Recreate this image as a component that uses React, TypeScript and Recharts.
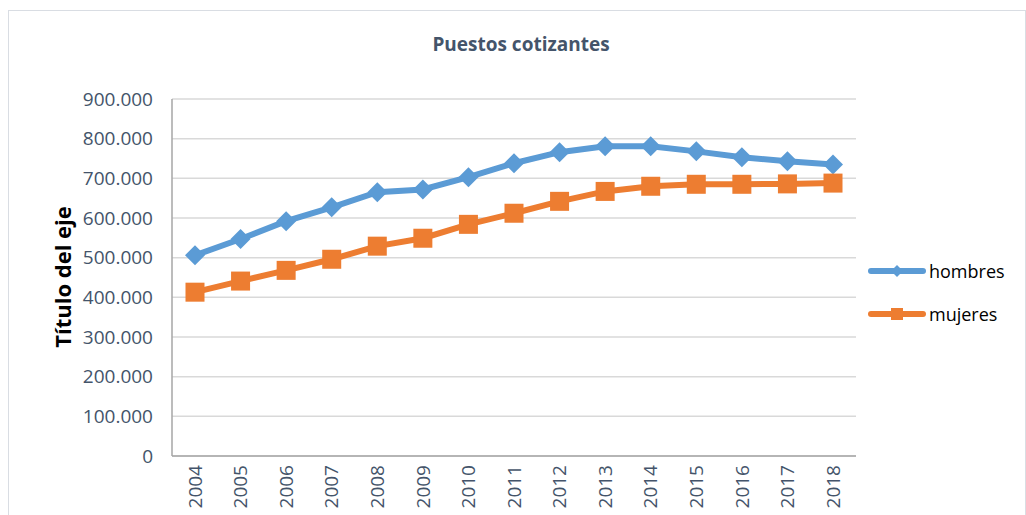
import React from 'react';
import { LineChart, Line, XAxis, YAxis, CartesianGrid, Legend } from 'recharts';

const years = ['2004','2005','2006','2007','2008','2009','2010','2011','2012','2013','2014','2015','2016','2017','2018'];
const hombres = [506000,547000,592000,627000,665000,672000,703000,738000,766000,781000,781000,768000,753000,743000,735000];
const mujeres = [413000,441000,468000,496000,529000,549000,584000,612000,642000,667000,680000,685000,685000,686000,688000];
const yTicks = [0,100000,200000,300000,400000,500000,600000,700000,800000,900000];

const data = years.map((y, i) => ({ year: y, hombres: hombres[i], mujeres: mujeres[i] }));

const BLUE = '#5b9bd5';
const ORANGE = '#ed7d31';
const TICK = '#44546a';
const FONT = '"Open Sans", sans-serif';

const fmt = (v: number) => String(v).replace(/\B(?=(\d{3})+(?!\d))/g, '.');

const Diamond = (props: any) => {
  const { cx, cy, index } = props;
  if (cx == null || cy == null) return <g key={`d${index}`} />;
  const r = 10;
  return <path key={`d${index}`} d={`M${cx},${cy - r}L${cx + r},${cy}L${cx},${cy + r}L${cx - r},${cy}Z`} fill={BLUE} />;
};

const Square = (props: any) => {
  const { cx, cy, index } = props;
  if (cx == null || cy == null) return <g key={`s${index}`} />;
  const h = 9.5;
  return <rect key={`s${index}`} x={cx - h} y={cy - h} width={h * 2} height={h * 2} fill={ORANGE} />;
};

const XTick = (props: any) => {
  const { x, y, payload } = props;
  return (
    <text transform={`translate(${x},${y}) rotate(-90)`} textAnchor="end" dy="0.35em" fill={TICK} fontSize={19} fontFamily={FONT}>
      {payload.value}
    </text>
  );
};

const YTick = (props: any) => {
  const { x, y, payload } = props;
  return (
    <text x={x} y={y} textAnchor="end" dy="0.35em" fill={TICK} fontSize={19} fontFamily={FONT}>
      {fmt(payload.value)}
    </text>
  );
};

const LegendContent = () => {
  const items = [
    { name: 'hombres', color: BLUE, shape: 'diamond' },
    { name: 'mujeres', color: ORANGE, shape: 'square' },
  ];
  return (
    <div>
      {items.map((it) => (
        <div key={it.name} style={{ display: 'flex', alignItems: 'center', height: 43 }}>
          <svg width={58} height={20}>
            <line x1={3} y1={10} x2={55} y2={10} stroke={it.color} strokeWidth={6} strokeLinecap="round" />
            {it.shape === 'diamond' ? (
              <path d="M29,4L35,10L29,16L23,10Z" fill={it.color} />
            ) : (
              <rect x={23} y={4} width={12} height={12} fill={it.color} />
            )}
          </svg>
          <span style={{ fontFamily: FONT, fontSize: 18, color: '#000', marginLeft: 3 }}>{it.name}</span>
        </div>
      ))}
    </div>
  );
};

export default function App() {
  return (
    <div style={{ position: 'absolute', left: 0, top: 0, width: 1026, height: 515, background: '#fff', overflow: 'hidden' }}>
      <div style={{ position: 'absolute', left: 8, top: 10, width: 1016, height: 520, border: '1px solid #d9dde3' }} />
      <div style={{ position: 'absolute', left: 0, top: 31, width: 1042, textAlign: 'center', fontFamily: FONT, fontWeight: 700, fontSize: 19, color: '#44546a' }}>
        Puestos cotizantes
      </div>
      <div style={{ position: 'absolute', left: 62, top: 277, transform: 'translate(-50%,-50%) rotate(-90deg)', whiteSpace: 'nowrap', fontFamily: FONT, fontWeight: 700, fontSize: 22, color: '#000' }}>
        Título del eje
      </div>
      <div style={{ position: 'absolute', left: 0, top: 0 }}>
        <LineChart width={1026} height={515} data={data} margin={{ top: 99, right: 20, left: 0, bottom: 0 }}>
          <CartesianGrid vertical={false} stroke="#d9d9d9" strokeWidth={1.5} />
          <XAxis
            dataKey="year"
            height={59}
            padding={{ left: 23, right: 23 }}
            tickLine={false}
            tickSize={0}
            tickMargin={9}
            axisLine={{ stroke: '#a6a6a6', strokeWidth: 1.5 }}
            tick={<XTick />}
            interval={0}
          />
          <YAxis
            width={172}
            domain={[0, 900000]}
            ticks={yTicks}
            tickLine={false}
            tickSize={0}
            tickMargin={19}
            axisLine={{ stroke: '#a6a6a6', strokeWidth: 1.5 }}
            tick={<YTick />}
          />
          <Legend layout="vertical" verticalAlign="top" align="right" content={<LegendContent />} wrapperStyle={{ left: 868, top: 249, width: 150 }} />
          <Line type="linear" dataKey="hombres" stroke={BLUE} strokeWidth={6} dot={Diamond} activeDot={false} isAnimationActive={false} />
          <Line type="linear" dataKey="mujeres" stroke={ORANGE} strokeWidth={6} dot={Square} activeDot={false} isAnimationActive={false} />
        </LineChart>
      </div>
    </div>
  );
}
